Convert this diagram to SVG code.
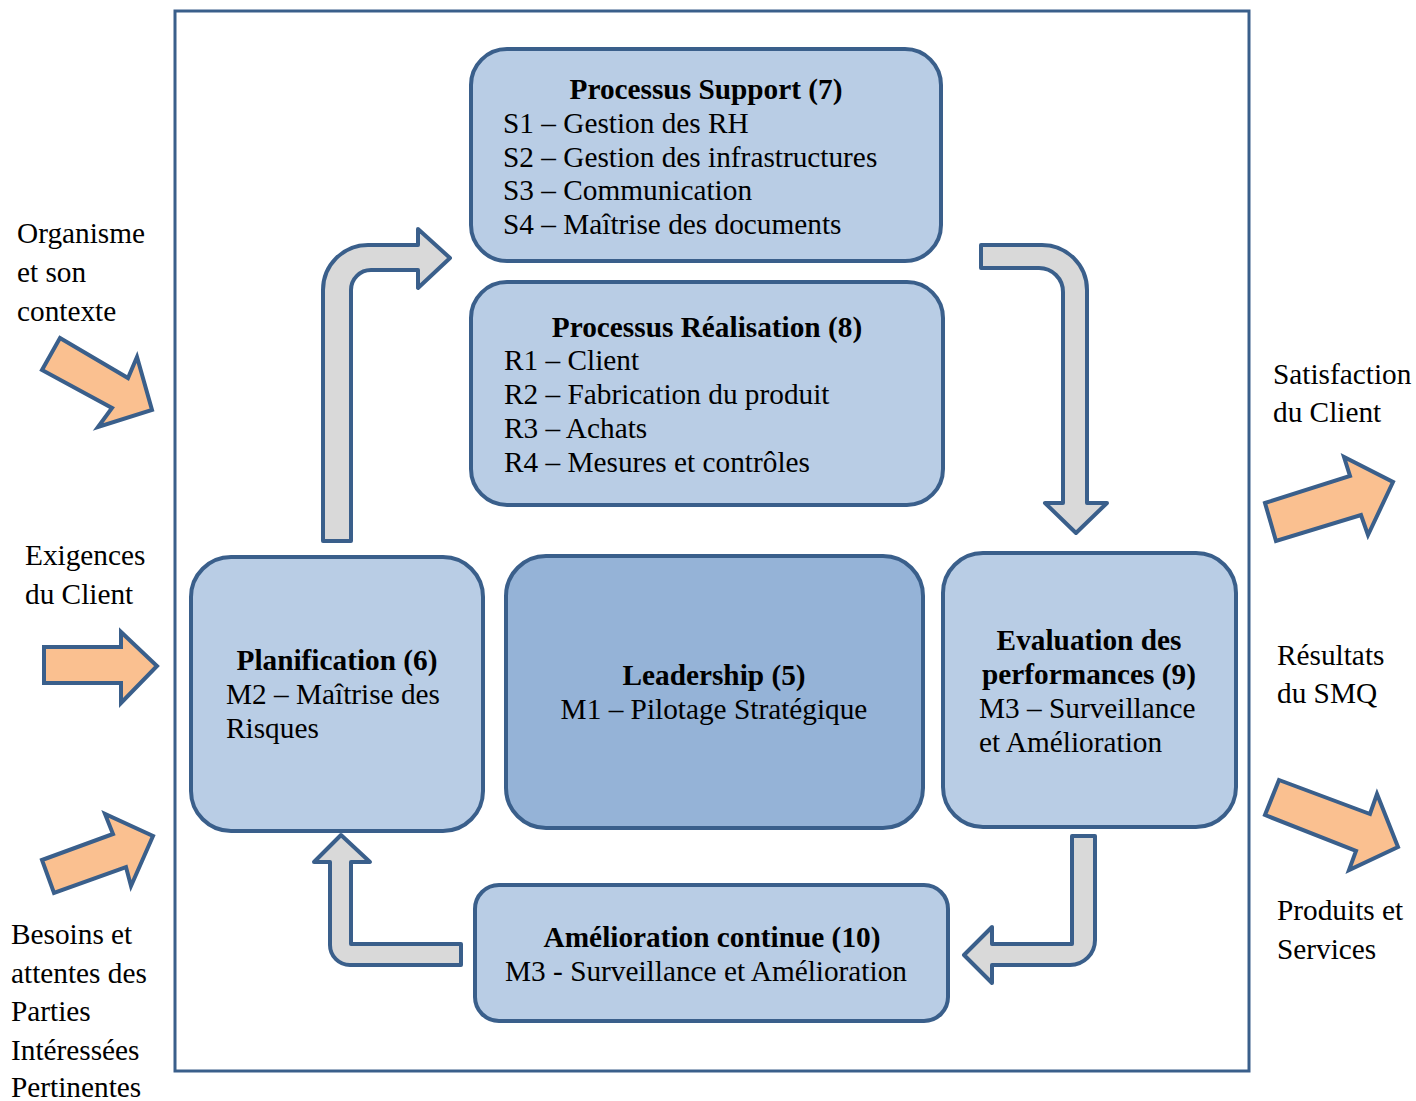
<svg xmlns="http://www.w3.org/2000/svg" width="1416" height="1101" viewBox="0 0 1416 1101">
<style>
text{font-family:"Liberation Serif","Times New Roman",serif;font-size:29.3px;fill:#000}
.b{font-weight:bold}
.c{text-anchor:middle}
.box{fill:#b9cde5;stroke:#3a5f8b;stroke-width:4}
.dark{fill:#95b3d7}
.ga{fill:#d9d9d9;stroke:#3a5f8b;stroke-width:4;stroke-linejoin:round}
.oa{fill:#fac090;stroke:#3a5f8b;stroke-width:4;stroke-linejoin:miter}
</style>
<rect x="0" y="0" width="1416" height="1101" fill="#fff"/>
<rect id="frame" x="175" y="11" width="1074" height="1060" fill="none" stroke="#3a5f8b" stroke-width="3"/>

<g id="connectors">
<path class="ga" d="M323,541 L323,290 A45,45 0 0 1 368,245 L418,245 L418,229 L450,258 L418,288 L418,270 L371,270 A20,20 0 0 0 351,290 L351,541 Z"/>
<path class="ga" d="M981,245 L1042,245 A45,45 0 0 1 1087,290 L1087,503 L1107,503 L1076,533 L1045,503 L1063,503 L1063,292 A24,24 0 0 0 1039,268 L981,268 Z"/>
<path class="ga" d="M461,944 L461,965 L350,965 A20,20 0 0 1 330,945 L330,862 L314,862 L341,835 L370,862 L351,862 L351,944 Z"/>
<path class="ga" d="M1072,836 L1095,836 L1095,940 A25,25 0 0 1 1070,965 L992,965 L992,983 L964,955 L992,927 L992,944 L1072,944 Z"/>
<polygon class="oa" points="60,338 128,378 137,357 152,410 98,427 112,408 42,370"/>
<polygon class="oa" points="44,647 121,647 121,632 157,666 121,703 121,683 44,683"/>
<polygon class="oa" points="42,860 113,834 105,814 153,836 131,886 126,867 54,893"/>
<polygon class="oa" points="1265,503 1350,476 1344,457 1393,482 1368,535 1361,515 1276,541"/>
<polygon class="oa" points="1279,780 1370,814 1377,794 1398,847 1349,870 1356,851 1265,815"/>
</g>

<g id="support">
<rect class="box" x="471" y="49" width="470" height="212" rx="36"/>
<text class="b c" x="706" y="99">Processus Support (7)</text>
<text x="503" y="133">S1 – Gestion des RH</text>
<text x="503" y="167">S2 – Gestion des infrastructures</text>
<text x="503" y="200">S3 – Communication</text>
<text x="503" y="234">S4 – Maîtrise des documents</text>
</g>

<g id="realisation">
<rect class="box" x="471" y="282" width="472" height="223" rx="36"/>
<text class="b c" x="707" y="337">Processus Réalisation (8)</text>
<text x="504" y="370">R1 – Client</text>
<text x="504" y="404">R2 – Fabrication du produit</text>
<text x="504" y="438">R3 – Achats</text>
<text x="504" y="472">R4 – Mesures et contrôles</text>
</g>

<g id="planification">
<rect class="box" x="191" y="557" width="292" height="274" rx="40"/>
<text class="b c" x="337" y="670">Planification (6)</text>
<text x="226" y="704">M2 – Maîtrise des</text>
<text x="226" y="738">Risques</text>
</g>

<g id="leadership">
<rect class="box dark" x="506" y="556" width="417" height="272" rx="40"/>
<text class="b c" x="714" y="685">Leadership (5)</text>
<text class="c" x="714" y="719">M1 – Pilotage Stratégique</text>
</g>

<g id="evaluation">
<rect class="box" x="943" y="553" width="293" height="274" rx="40"/>
<text class="b c" x="1089" y="650">Evaluation des</text>
<text class="b c" x="1089" y="684">performances (9)</text>
<text x="979" y="718">M3 – Surveillance</text>
<text x="979" y="752">et Amélioration</text>
</g>

<g id="amelioration">
<rect class="box" x="475" y="885" width="473" height="136" rx="24"/>
<text class="b c" x="712" y="947">Amélioration continue (10)</text>
<text class="c" x="706" y="981">M3 - Surveillance et Amélioration</text>
</g>

<g id="labels">
<text x="17" y="243">Organisme</text>
<text x="17" y="282">et son</text>
<text x="17" y="321">contexte</text>
<text x="25" y="565">Exigences</text>
<text x="25" y="604">du Client</text>
<text x="11" y="944">Besoins et</text>
<text x="11" y="983">attentes des</text>
<text x="11" y="1021">Parties</text>
<text x="11" y="1060">Intéressées</text>
<text x="11" y="1097">Pertinentes</text>
<text x="1273" y="384">Satisfaction</text>
<text x="1273" y="422">du Client</text>
<text x="1277" y="665">Résultats</text>
<text x="1277" y="703">du SMQ</text>
<text x="1277" y="920">Produits et</text>
<text x="1277" y="959">Services</text>
</g>
</svg>
